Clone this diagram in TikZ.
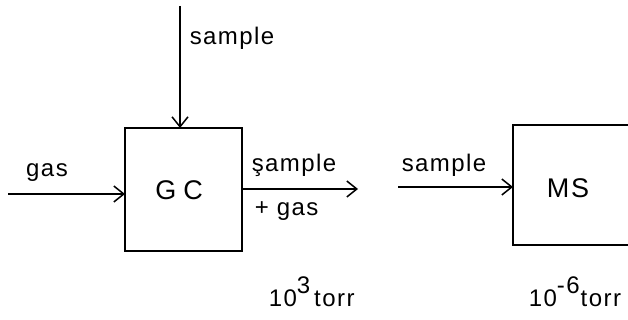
\documentclass[tikz,border=0pt]{standalone}
\usepackage{fontspec}
\setmainfont[LetterSpace=6]{Liberation Sans}
\usetikzlibrary{arrows.meta}
\begin{document}
\begin{tikzpicture}[x=1pt,y=-1pt,
  line width=1.5pt,
  lbl/.style={font=\fontsize{24}{26}\selectfont, inner sep=0pt},
  boxlbl/.style={font=\fontsize{27}{29}\selectfont, inner sep=0pt},
  flow/.style={-{Straight Barb[length=10pt,width=16pt,line width=1.5pt]}}]
\useasboundingbox (0,0) rectangle (628,320);
% GC box
\node[draw, minimum width=117pt, minimum height=123pt, inner sep=0pt] (gc) at (183.5,189.5) {};
\node[boxlbl] (gct) at (179,190) {G\hspace{7pt}C};
% MS box (cut off at right)
\coordinate (msTR) at (628,125);
\coordinate (msBR) at (628,245);
\coordinate (msTL) at (513,125);
\coordinate (msBL) at (513,245);
\draw (msTR) -- (msTL) -- (msBL) -- (msBR);
\node[boxlbl] (mst) at (568,188) {MS};
\coordinate (msin) at (513,187);
% inputs
\coordinate (topin) at (180,6);
\coordinate (gcTop) at (180,128);
\draw[flow] (topin) -- (gcTop);
\node[lbl, anchor=west] (s1) at (189,38) {sample};
\coordinate (gasin) at (8,194);
\coordinate (gcLeft) at (125,194);
\draw[flow] (gasin) -- (gcLeft);
\node[lbl] (g1) at (47,173) {gas};
% output
\coordinate (gcRight) at (242,189);
\coordinate (outEnd) at (358,189);
\draw[flow] (gcRight) -- (outEnd);
\node[lbl, anchor=west] (s2) at (251,165) {şample};
\node[lbl, anchor=west] (g2) at (254,211) {+ gas};
% MS input
\coordinate (msfrom) at (398,187);
\draw[flow] (msfrom) -- (msin);
\node[lbl, anchor=west] (s3) at (401,165) {sample};
% pressures
\node[lbl, anchor=west] (p1) at (268,292) {10\raisebox{0.55em}{3}\hspace{4pt}torr};
\node[lbl, anchor=west] (p2) at (528,292) {10\raisebox{0.55em}{-6}\hspace{1pt}torr};
\end{tikzpicture}
\end{document}
